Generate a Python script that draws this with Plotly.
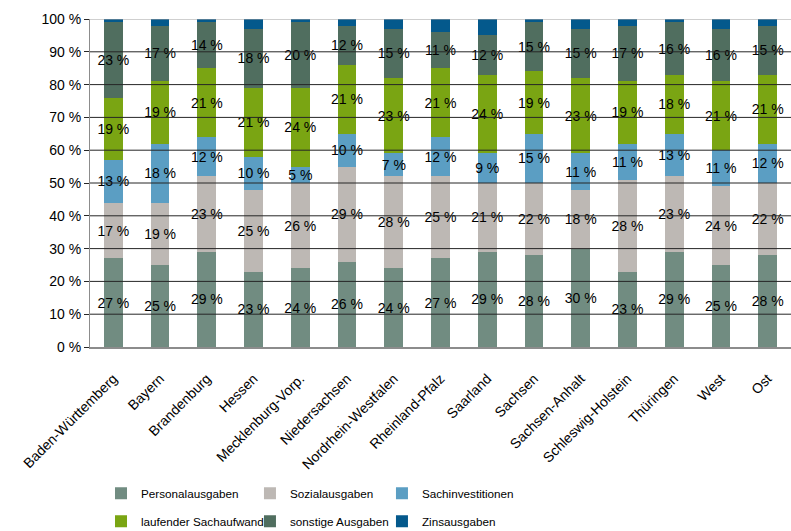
import plotly.graph_objects as go

# Länder / Ländergruppen
laender = [
    "Baden-Württemberg", "Bayern", "Brandenburg", "Hessen", "Mecklenburg-Vorp.",
    "Niedersachsen", "Nordrhein-Westfalen", "Rheinland-Pfalz", "Saarland", "Sachsen",
    "Sachsen-Anhalt", "Schleswig-Holstein", "Thüringen", "West", "Ost",
]

# Anteile an den Gesamtausgaben in Prozent
personalausgaben = [27, 25, 29, 23, 24, 26, 24, 27, 29, 28, 30, 23, 29, 25, 28]
sozialausgaben = [17, 19, 23, 25, 26, 29, 28, 25, 21, 22, 18, 28, 23, 24, 22]
sachinvestitionen = [13, 18, 12, 10, 5, 10, 7, 12, 9, 15, 11, 11, 13, 11, 12]
laufender_sachaufwand = [19, 19, 21, 21, 24, 21, 23, 21, 24, 19, 23, 19, 18, 21, 21]
sonstige_ausgaben = [23, 17, 14, 18, 20, 12, 15, 11, 12, 15, 15, 17, 16, 16, 15]
zinsausgaben = [1, 2, 1, 3, 1, 2, 3, 4, 5, 1, 3, 2, 1, 3, 2]

y_ticks = [0, 10, 20, 30, 40, 50, 60, 70, 80, 90, 100]

# name, values, colour, legend column, labelled
series = [
    ("Personalausgaben", personalausgaben, "#718c81", "legend", True),
    ("Sozialausgaben", sozialausgaben, "#bdb8b4", "legend2", True),
    ("Sachinvestitionen", sachinvestitionen, "#5b9ec3", "legend3", True),
    ("laufender Sachaufwand", laufender_sachaufwand, "#7aa513", "legend", True),
    ("sonstige Ausgaben", sonstige_ausgaben, "#506e5f", "legend2", True),
    ("Zinsausgaben", zinsausgaben, "#04598c", "legend3", False),
]

FONT = "Liberation Sans, Arial, sans-serif"

fig = go.Figure()
for name, vals, color, leg, labelled in series:
    fig.add_trace(go.Bar(
        x=laender,
        y=vals,
        name=name,
        legendgroup=name,
        marker=dict(color=color, line=dict(width=0)),
        text=[f"{v} %" for v in vals] if labelled else None,
        textposition="inside" if labelled else "none",
        insidetextanchor="middle",
        constraintext="none",
        textangle=0,
        textfont=dict(family=FONT, size=14, color="#000000"),
        insidetextfont=dict(family=FONT, size=14, color="#000000"),
        legend=leg,
        hoverinfo="skip",
    ))

# horizontal reference lines drawn over the bars
shapes = []
for t in y_ticks[1:]:
    shapes.append(dict(
        type="line", xref="paper", x0=0, x1=1, yref="y", y0=t, y1=t,
        line=dict(color="#a0a0a0" if t == 100 else "#262626", width=1),
        layer="above",
    ))

legend_common = dict(
    orientation="v",
    xanchor="left",
    yanchor="top",
    y=-0.402,
    traceorder="grouped",
    tracegroupgap=9,
    font=dict(family=FONT, size=11.7, color="#000000"),
    bgcolor="rgba(0,0,0,0)",
    itemclick=False,
    itemdoubleclick=False,
)

fig.update_layout(
    width=791,
    height=531,
    margin=dict(l=90, r=0, t=19, b=184, autoexpand=False),
    paper_bgcolor="white",
    plot_bgcolor="white",
    barmode="stack",
    bargap=0.6,
    font=dict(family=FONT, size=13, color="#000000"),
    showlegend=True,
    legend=dict(legend_common, x=0.0157),
    legend2=dict(legend_common, x=0.2282),
    legend3=dict(legend_common, x=0.4165),
    shapes=shapes,
    xaxis=dict(
        type="category",
        range=[-0.5, len(laender) - 0.5],
        tickangle=-45,
        tickfont=dict(family=FONT, size=14, color="#000000"),
        ticklabelstandoff=16,
        showline=True,
        linecolor="#8c8c8c",
        linewidth=2,
        ticks="",
        showgrid=False,
        fixedrange=True,
    ),
    yaxis=dict(
        range=[0, 100],
        tickvals=y_ticks,
        ticktext=[f"{t} %" for t in y_ticks],
        tickfont=dict(family=FONT, size=14, color="#000000"),
        showline=True,
        linecolor="#8c8c8c",
        linewidth=1,
        ticks="outside",
        ticklen=5,
        tickcolor="#262626",
        showgrid=False,
        zeroline=False,
        fixedrange=True,
    ),
)

fig.write_html("out.html")
